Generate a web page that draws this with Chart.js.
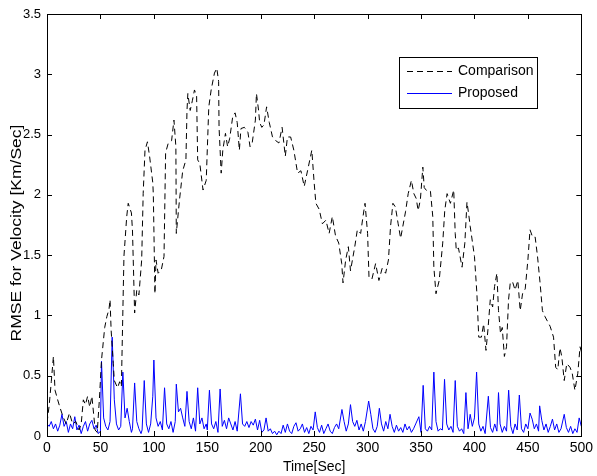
<!DOCTYPE html>
<html><head><meta charset="utf-8">
<script src="https://cdn.jsdelivr.net/npm/chart.js@4"></script>
<style>html,body{margin:0;padding:0;background:#fff;}canvas{display:block;}</style>
</head><body>
<canvas id="c" width="597" height="476"></canvas>
<script>
const compTime = [0,2,4,6,7.5,10,12,15,18,21,24,27,30,32,34,36,38,40,42,44,45,47,49,51,54,56,58,59,60,62,63,66,68,69.6,72,74.6,76,79,80,82,84,86,88.6,90,91.7,94,96,99,99.5,101,102,104,107,109.5,111,113.5,116.6,118.8,120.6,121,124,127,130,131,131.8,134,136,138,140,141,143,146,149,151.4,153.6,156.7,158.9,160.6,161,163,164.5,167,169,171,173.8,176,178,180,181.5,184.7,188,190,192,195,196,198,199,201,203,205.5,208,211,214,217,220,223,225,228,231,234.5,237.6,240.7,243.8,247.8,250,251.6,254.7,257.7,261,264,267,270,273,275.8,277,279.5,282,284,285.8,288,290.4,293.5,295.7,297.6,300,301.3,304,307.5,310.6,313.6,316.9,319.5,321.5,323.7,326,328.6,330.9,333,335.5,338,341,343.3,345.5,347.3,349.4,351.7,353,355.7,358.8,361,362,364,367,370.3,372.2,374.4,377.5,380.6,382,383,385,388.4,391,393,394.6,396,400,402.3,404,406.5,408.6,410.8,412.6,414.8,417,418.8,421,422.5,424.4,426,428,430,431.9,433.5,435.6,438,440.6,442.8,445,447.5,450,452,454.4,456.8,459,461.4,463.6,466,470.8,474,476,478,480,481.7,484,486.4,489.4,491.5,494,496.7,498.8,500];
const compValue = [0.11,0.25,0.45,0.66,0.38,0.30,0.24,0.16,0.10,0.19,0.10,0.12,0.05,0.10,0.30,0.26,0.33,0.24,0.33,0.15,0.05,0.03,0.30,0.63,0.90,0.99,1.05,1.13,0.88,0.60,0.46,0.40,0.45,0.41,1.49,1.82,1.93,1.85,1.70,1.02,1.21,1.17,1.46,2.01,2.37,2.44,2.32,2.10,2.00,1.18,1.46,1.35,1.38,1.49,2.35,2.43,2.45,2.62,2.40,1.68,1.96,2.20,2.29,2.70,2.84,2.70,2.78,2.87,2.82,2.29,2.26,2.04,2.12,2.73,2.87,3.01,3.05,2.94,2.56,2.18,2.37,2.51,2.40,2.47,2.65,2.68,2.60,2.37,2.55,2.56,2.52,2.40,2.43,2.62,2.84,2.70,2.60,2.56,2.58,2.73,2.60,2.48,2.45,2.43,2.56,2.32,2.48,2.48,2.37,2.18,2.20,2.07,2.20,2.37,2.10,1.93,1.88,1.76,1.79,1.68,1.82,1.66,1.60,1.43,1.27,1.46,1.57,1.37,1.46,1.57,1.71,1.68,1.82,1.93,1.68,1.32,1.30,1.43,1.29,1.39,1.35,1.46,1.74,1.93,1.90,1.76,1.64,1.74,1.86,2.01,2.12,2.01,1.97,1.87,1.96,2.23,2.06,2.03,2.03,1.82,1.40,1.18,1.29,1.60,1.87,2.01,1.93,2.04,1.68,1.54,1.56,1.40,1.60,1.94,1.84,1.74,1.49,1.18,0.82,0.82,0.93,0.71,0.88,1.13,1.07,1.24,1.35,1.04,0.85,0.90,0.66,0.74,1.13,1.27,1.28,1.21,1.29,1.04,1.18,1.22,1.46,1.71,1.65,1.65,1.49,1.27,1.04,0.99,0.91,0.82,0.57,0.55,0.73,0.66,0.46,0.60,0.57,0.52,0.38,0.52,0.74,0.70];
const propTime = [0,2,4,6,8,10,12,14,16,18,20,22,24,26,28,30,32,34,36,38,40,42,44,46,48,50,51,53,55,57,59,61,63,65,67,69,71,73,75,77,79,80,82,84,86,88,89,91,93,95,97,99,100,102,104,106,108,110,112,114,116,118,120,121,123,125,127,129,131,133,135,137,139,141,143,145,147,149,150,152,154,156,158,160,162,164,166,168,170,172,174,176,178,181,183,185,187,189,191,193,195,197,199,201,203,205,207,209,211,213,215,217,219,221,223,225,227,229,231,233,235,237,239,241,243,245,247,249,251,253,255,257,259,261,263,265,267,269,271,273,276,278,280,282,284,286,288,290,292,294,296,298,301,303,305,307,309,311,313,315,317,319,321,323,325,327,329,331,333,335,337,339,341,343,345,348,350,352,354,356,358,360,362,364,366,368,370,372,374,376,378,380,382,384,386,388,390,392,394,396,398,400,402,404,406,408,410,413,415,417,419,421,422.5,424,426,428,430,432,434,436,438,440,442,444,446,448,450,452,454,456,458,460,461,463,465,467,469,471,473,475,477,479,481,484,486,488,490,492,494,496,498,500];
const propValue = [0.10,0.08,0.12,0.06,0.10,0.04,0.09,0.18,0.08,0.12,0.03,0.10,0.06,0.16,0.05,0.09,0.02,0.08,0.12,0.04,0.10,0.13,0.06,0.09,0.02,0.04,0.62,0.15,0.08,0.05,0.12,0.82,0.30,0.10,0.05,0.08,0.53,0.15,0.23,0.12,0.03,0.06,0.44,0.12,0.06,0.02,0.05,0.46,0.10,0.03,0.10,0.33,0.63,0.15,0.08,0.12,0.05,0.40,0.10,0.06,0.12,0.03,0.12,0.43,0.20,0.23,0.15,0.08,0.37,0.12,0.06,0.15,0.04,0.40,0.10,0.15,0.06,0.10,0.05,0.38,0.10,0.06,0.12,0.03,0.39,0.08,0.13,0.06,0.15,0.10,0.05,0.12,0.04,0.35,0.10,0.08,0.12,0.07,0.12,0.09,0.14,0.05,0.13,0.03,0.05,0.15,0.04,0.06,0.02,0.04,0.01,0.04,0.02,0.09,0.03,0.10,0.04,0.02,0.08,0.11,0.04,0.06,0.10,0.03,0.07,0.02,0.08,0.05,0.20,0.07,0.03,0.09,0.02,0.06,0.10,0.04,0.02,0.07,0.10,0.06,0.22,0.12,0.04,0.10,0.26,0.12,0.08,0.13,0.05,0.10,0.04,0.12,0.29,0.18,0.06,0.03,0.08,0.23,0.10,0.04,0.12,0.06,0.18,0.08,0.03,0.09,0.04,0.07,0.03,0.10,0.05,0.08,0.03,0.06,0.10,0.16,0.03,0.42,0.06,0.04,0.08,0.05,0.53,0.12,0.04,0.06,0.05,0.47,0.10,0.05,0.08,0.03,0.46,0.08,0.04,0.06,0.02,0.36,0.06,0.18,0.08,0.15,0.53,0.10,0.04,0.08,0.02,0.33,0.07,0.03,0.10,0.04,0.36,0.10,0.03,0.08,0.04,0.38,0.08,0.02,0.10,0.05,0.34,0.06,0.03,0.10,0.06,0.19,0.14,0.06,0.10,0.04,0.25,0.13,0.05,0.10,0.03,0.08,0.14,0.05,0.10,0.03,0.06,0.18,0.07,0.03,0.08,0.02,0.06,0.03,0.15,0.08];
const xTicks = [0,50,100,150,200,250,300,350,400,450,500];
const yTicks = [0,0.5,1,1.5,2,2.5,3,3.5];
const seriesNames = ['Comparison','Proposed'];
const seriesColors = ['#000000','#0000ff'];
const xTitle = 'Time[Sec]';
const yTitle = 'RMSE for Velocity [Km/Sec]';

const FONT = 'Liberation Sans, Arial, sans-serif';

const framePlugin = {
  id: 'frame',
  afterDatasetsDraw(chart) {
    const {ctx, chartArea: a, scales} = chart;
    ctx.save();
    ctx.strokeStyle = '#000'; ctx.lineWidth = 1;
    ctx.strokeRect(Math.round(a.left)+0.5, Math.round(a.top)+0.5, Math.round(a.right-a.left), Math.round(a.bottom-a.top));
    const L = 5;
    ctx.beginPath();
    xTicks.forEach(v => {
      const x = Math.round(scales.x.getPixelForValue(v)) + 0.5;
      ctx.moveTo(x, a.bottom); ctx.lineTo(x, a.bottom - L);
      ctx.moveTo(x, a.top); ctx.lineTo(x, a.top + L);
    });
    yTicks.forEach(v => {
      const y = Math.round(scales.y.getPixelForValue(v)) + 0.5;
      ctx.moveTo(a.left, y); ctx.lineTo(a.left + L, y);
      ctx.moveTo(a.right, y); ctx.lineTo(a.right - L, y);
    });
    ctx.stroke();
    // y axis title (stretched along its length like the reference)
    ctx.save();
    ctx.fillStyle = '#000';
    ctx.font = '14px ' + FONT;
    ctx.textAlign = 'center';
    ctx.textBaseline = 'middle';
    ctx.translate(17, 233);
    ctx.rotate(-Math.PI/2);
    ctx.scale(1.25, 1);
    ctx.fillText(yTitle, 0, 0);
    ctx.restore();
    // legend box
    const bx = 399.5, by = 57.5, bw = 138, bh = 51;
    ctx.fillStyle = '#fff';
    ctx.fillRect(bx, by, bw, bh);
    ctx.strokeStyle = '#000';
    ctx.strokeRect(bx, by, bw, bh);
    ctx.font = '14px ' + FONT;
    ctx.textBaseline = 'middle';
    chart.data.datasets.forEach((ds, i) => {
      const yy = 71.5 + i * 22;
      ctx.setLineDash(ds.borderDash || []);
      ctx.strokeStyle = seriesColors[i];
      ctx.beginPath();
      ctx.moveTo(407, yy); ctx.lineTo(452, yy);
      ctx.stroke();
      ctx.setLineDash([]);
      ctx.fillStyle = '#000';
      ctx.fillText(ds.label, 458, yy);
    });
    ctx.restore();
  }
};

new Chart(document.getElementById('c'), {
  type: 'line',
  data: {
    datasets: [
      { label: seriesNames[0], data: compTime.map((t,i)=>({x:t,y:compValue[i]})), borderColor:seriesColors[0], borderWidth:1, borderDash:[6,4], pointRadius:0, tension:0, fill:false },
      { label: seriesNames[1], data: propTime.map((t,i)=>({x:t,y:propValue[i]})), borderColor:seriesColors[1], borderWidth:1, pointRadius:0, tension:0, fill:false }
    ]
  },
  options: {
    responsive:false, animation:false, events:[],
    layout:{ padding:{ top:14, right:14, left:0, bottom:0 } },
    plugins:{ legend:{display:false}, tooltip:{enabled:false} },
    scales:{
      x:{ type:'linear', min:0, max:500,
        afterBuildTicks(s){ s.ticks = xTicks.map(v=>({value:v})); },
        afterFit(s){ s.height = 40; },
        grid:{ display:false, drawTicks:false },
        border:{ display:false },
        ticks:{ color:'#000', font:{family:FONT,size:14}, padding:4, maxRotation:0 },
        title:{ display:true, text:xTitle, color:'#000', font:{family:FONT,size:14}, padding:{top:0,bottom:0} }
      },
      y:{ type:'linear', min:0, max:3.5,
        afterBuildTicks(s){ s.ticks = yTicks.map(v=>({value:v})); },
        afterFit(s){ s.width = 47; },
        grid:{ display:false, drawTicks:false },
        border:{ display:false },
        ticks:{ color:'#000', font:{family:FONT,size:13}, padding:6, callback:v=>String(v) },
        title:{ display:false }
      }
    }
  },
  plugins:[framePlugin]
});
</script>
</body></html>
